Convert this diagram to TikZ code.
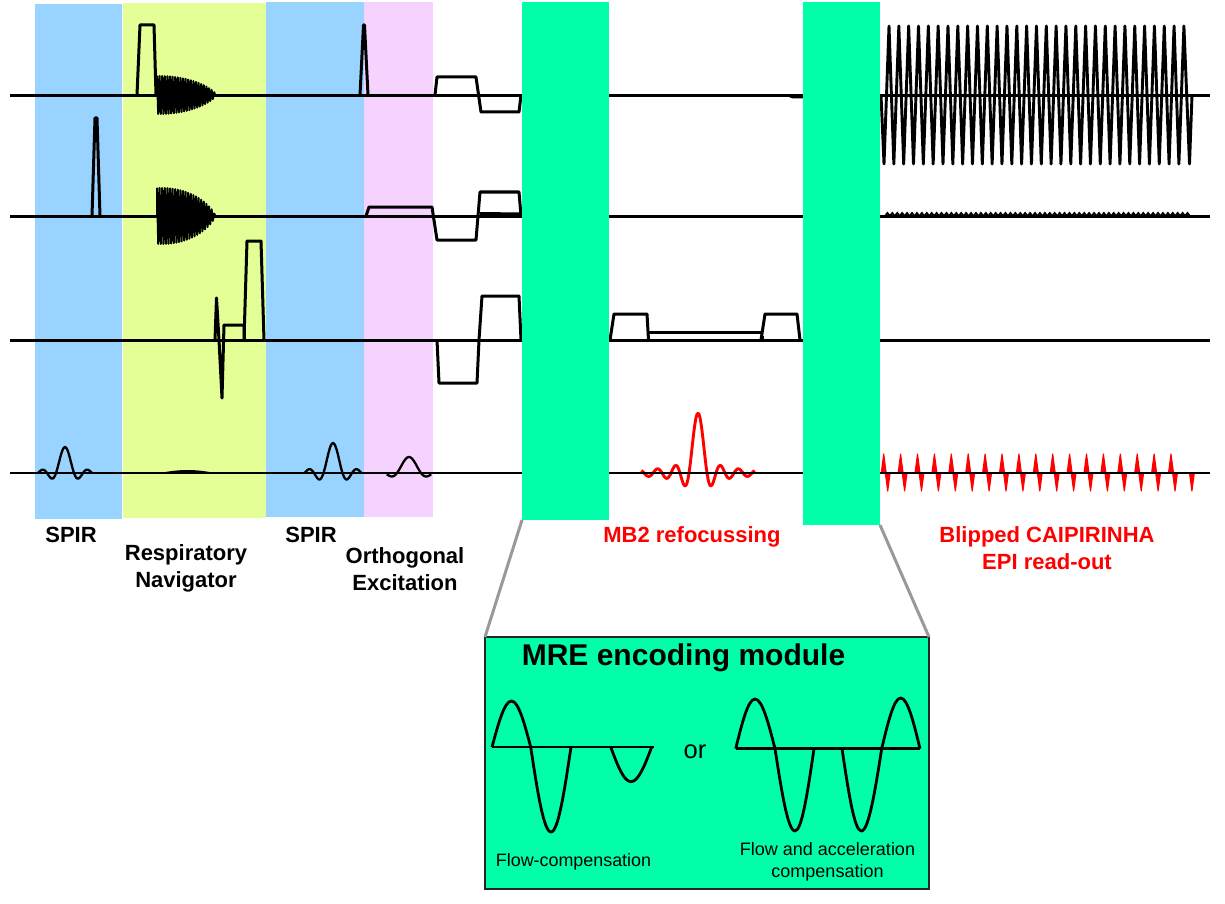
\documentclass[tikz,border=0pt]{standalone}
\usepackage{fontspec}
\setmainfont{Liberation Sans}
\usetikzlibrary{positioning}
\definecolor{spirblue}{RGB}{153,211,255}
\definecolor{navyellow}{RGB}{228,255,150}
\definecolor{excpink}{RGB}{246,211,255}
\definecolor{mregreen}{RGB}{0,255,168}
\tikzset{
  gradline/.style={line width=3pt,line join=round},
  rfline/.style={line width=2.3pt,line join=round},
  mreline/.style={line width=2.8pt,line join=round},
  mrebar/.style={fill=mregreen,inner sep=0pt,outer sep=0pt,anchor=north west},
  zoomline/.style={line width=3pt,black!40},
  seqlabel/.style={font=\fontsize{22}{27}\selectfont\bfseries,align=center},
}
\begin{document}
\begin{tikzpicture}[x=1pt,y=-1pt,declare function={sincf(\t)=sin(180*\t)/(pi*\t);naven(\v)=pow(max(1-\v*\v,0.0005),0.7);}]
\useasboundingbox (0,0) rectangle (1225,904);
\foreach \xa/\ya/\xb/\yb/\col in {35/4/121.6/519/spirblue,122.8/3/266/518/navyellow,266/2/364/517/spirblue,364/2/433/517/excpink}{
  \fill[\col] (\xa,\ya) rectangle (\xb,\yb);
}
\draw[rfline,red,line width=2.9pt] plot[domain=-6.3:6.3,samples=80,smooth] ({698+9*\x},{473-60*sincf(\x)});
\foreach \k in {-1,...,17}{
  \filldraw[red,line width=1.1pt,line join=round] ({881.2+16.9*\k},473) -- ({883.7+16.9*\k},454) -- ({886.2+16.9*\k},473) -- cycle;
  \filldraw[red,line width=1.1pt,line join=round] ({902.2+16.9*\k},473) -- ({904.6+16.9*\k},491) -- ({907+16.9*\k},473) -- cycle;
}
\foreach \rowy in {95.3,216.3,340.3}{
  \draw[gradline] (10,\rowy)--(1210,\rowy);
}
\draw[rfline] (10,473)--(1210,473);
\draw[gradline] (137,95)--(140,25)--(154,25)--(156,95);
\draw[gradline] (360,95)--(363.5,25)--(364.5,25)--(368,95);
\draw[gradline] (92,216)--(95,118)--(97,118)--(100,216);
\foreach \rowy/\ampl/\cen/\wid in {95/19/160/56,216/28/163/52}{
  \draw[line width=2pt,line join=round] (157,\rowy) foreach \k in {0,...,22} {
    -- ({157+2.6*\k},{\rowy-\ampl*naven((157+2.6*\k-\cen)/\wid)})
    -- ({158.2+2.6*\k},{\rowy+\ampl*naven((158.2+2.6*\k-\cen)/\wid)})};
}
\draw[gradline] (215,340)--(216.5,298)--(219,340)--(222,398)--(224,325)--(244,325)--(244.5,340);
\draw[gradline] (244,340)--(247,241)--(261,241)--(264,340);
\draw[gradline] (435,95)--(437,77)--(476,77)--(481,112)--(519,112)--(521,95);
\draw[gradline] (366,216)--(369,207)--(432,207)--(437,240)--(476,240)--(480,192)--(519,192)--(521,216);
\draw[gradline] (480,213.5)--(521,214);
\draw[gradline] (437,340)--(439,383)--(477,383)--(479,340)--(482,296)--(519,296)--(521,340);
\draw[gradline] (610,340)--(614,314)--(647,314)--(648.5,340);
\draw[gradline] (648,332)--(762,332);
\draw[gradline] (761,340)--(765,314)--(797,314)--(800,340);
\fill (646.5,340) rectangle (650,336);
\fill (760,340) rectangle (763.5,336);
\draw[gradline] (790,96)--(793,97)--(803,97);
\draw[line width=2.9pt,line join=round] (881,95) foreach \k in {0,...,30} {
  -- ({884+9.83*\k},164) -- ({889+9.83*\k},26)} -- (1189.5,164) -- (1192,95);
\foreach \k in {0,...,61}{
  \draw[line width=1.8pt] ({885+4.92*\k},216) -- ++(2.4,-3) -- ++(2.4,3);
}
\foreach \cen/\amp/\wid/\rng in {65/26/9/3,333/30/9.5/3,409/16/12/1.85}{
  \draw[rfline] plot[domain=-\rng:\rng,samples=60,smooth] ({\cen+\wid*\x},{473-\amp*sincf(\x)});
}
\fill (160,473) .. controls (180,469) and (195,469) .. (215,473) -- cycle;
\node[mrebar,minimum width=87,minimum height=518] (mreA) at (522,2) {};
\node[mrebar,minimum width=77,minimum height=523] (mreB) at (803,2) {};
\node[mrebar,draw=black!85,line width=1.1pt,minimum width=444,minimum height=252] (module) at (485,637) {};
\draw[zoomline] (mreA.south west)--(module.north west);
\draw[zoomline] (mreB.south east)--(module.north east);
\node[seqlabel] (spirA) at (71,535) {SPIR};
\node[seqlabel] (resp) at (186,568.5) {Respiratory\\Navigator};
\node[seqlabel] (spirB) at (311,535) {SPIR};
\node[seqlabel] (ortho) at (405,569.5) {Orthogonal\\Excitation};
\node[seqlabel,text=red] (mbtwo) at (692,537) {MB2 refocussing};
\node[seqlabel,text=red] (epi) at (1047,548.5) {Blipped CAIPIRINHA\\EPI read-out};
\node[font=\fontsize{30}{36}\selectfont\bfseries] (mretitle) at (683.5,658) {MRE encoding module};
\node[font=\fontsize{25.5}{30}\selectfont] (ortxt) at (695,752) {or};
\node[font=\fontsize{17.9}{22}\selectfont] (flowcomp) at (573.5,862) {Flow-compensation};
\node[font=\fontsize{18}{22}\selectfont,align=center] (accel) at (827.5,862) {Flow and acceleration\\compensation};
\draw[mreline] (492,747)--(654,747);
\draw[mreline] (492,747) sin (511.5,701) cos (530.7,747) sin (551,832) cos (571,747);
\draw[mreline] (610.7,747) sin (631,781.7) cos (651.7,747);
\draw[mreline] (735.7,748.7)--(920,748.7);
\draw[mreline] (735.7,748.7) sin (755,699) cos (775,748.7) sin (795,831) cos (814,748.7);
\draw[mreline] (842,748.7) sin (861.3,831) cos (881.7,748.7) sin (900.7,698) cos (920,748.7);
\end{tikzpicture}
\end{document}
